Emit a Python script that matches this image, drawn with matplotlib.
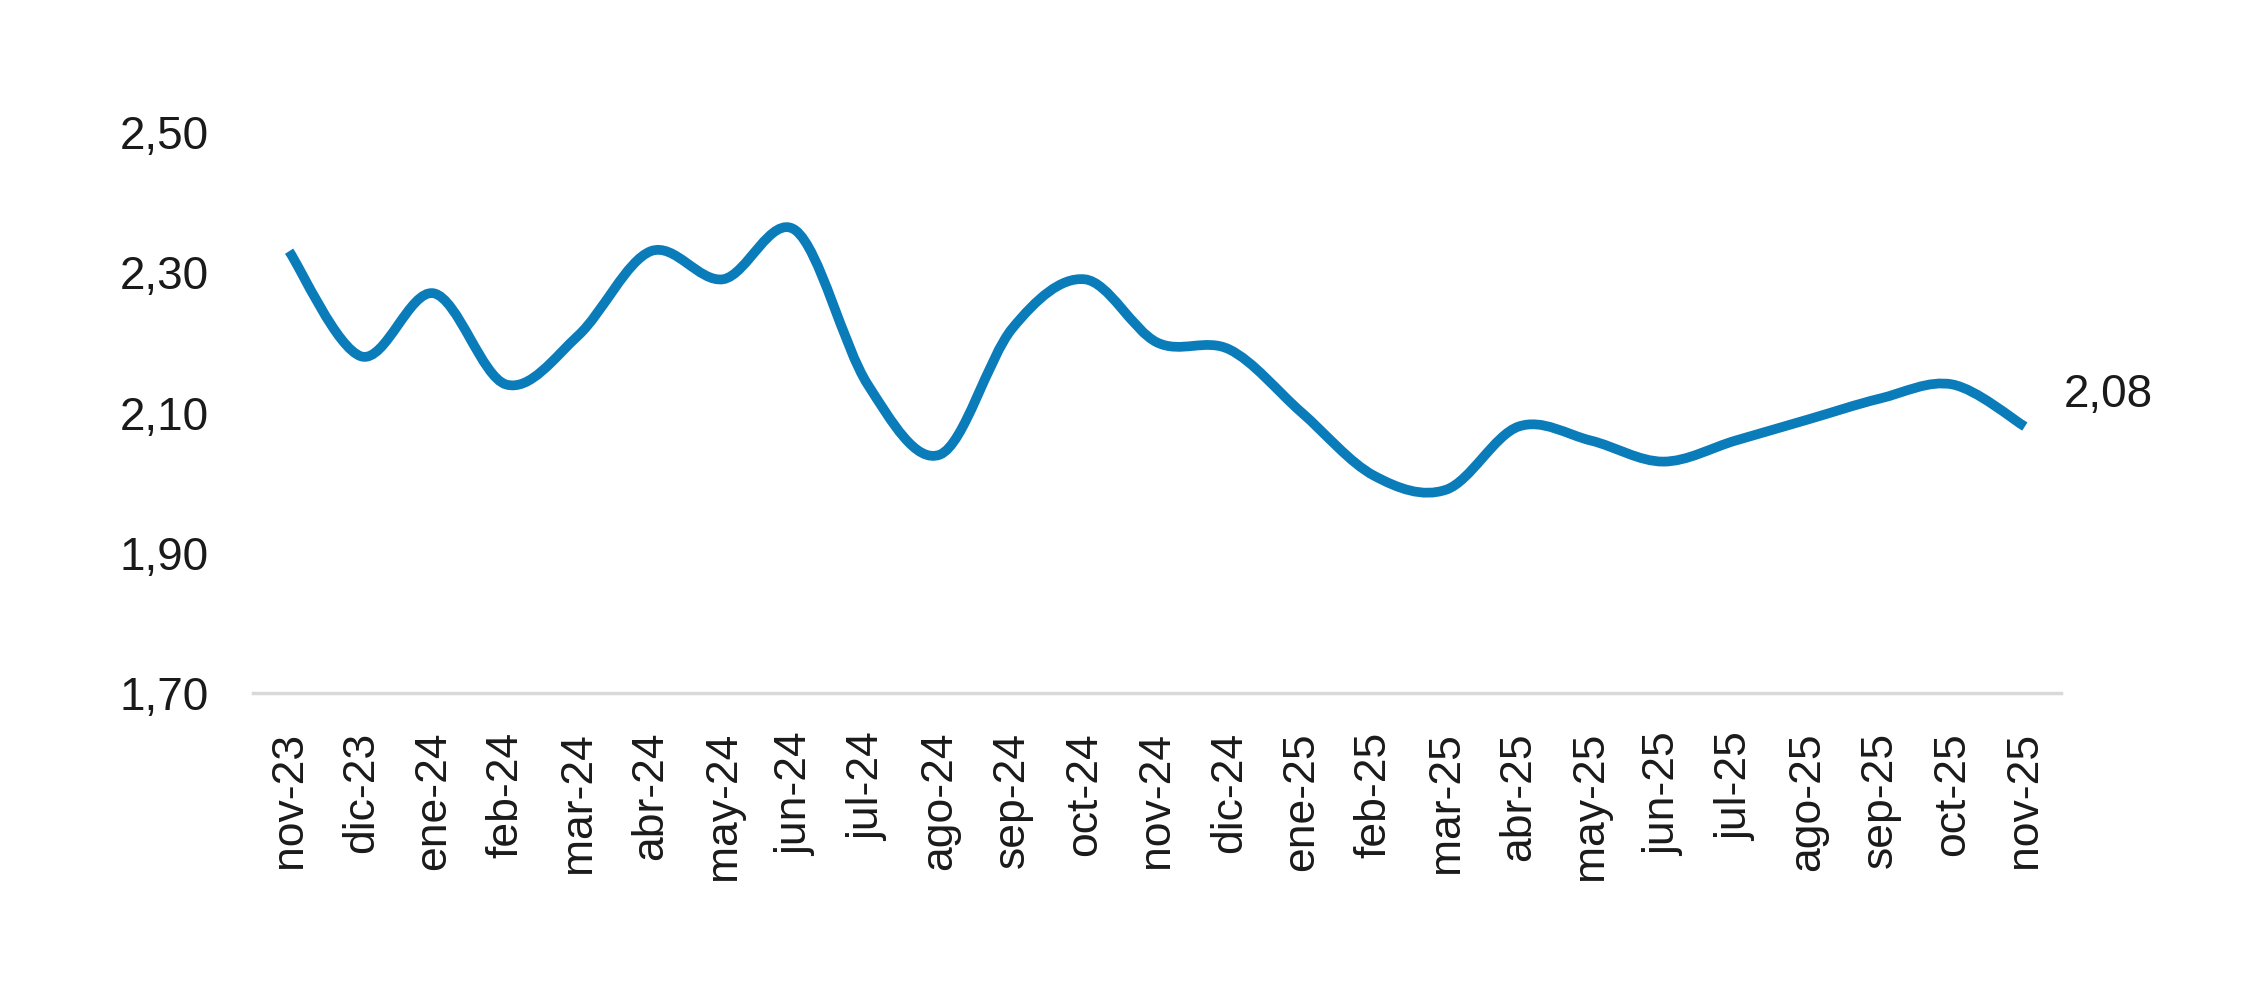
import numpy as np
import matplotlib.pyplot as plt
from matplotlib.path import Path
from matplotlib.patches import PathPatch

plt.rcParams['font.family'] = ['Liberation Sans', 'DejaVu Sans']

meses = ["nov-23", "dic-23", "ene-24", "feb-24", "mar-24", "abr-24", "may-24",
         "jun-24", "jul-24", "ago-24", "sep-24", "oct-24", "nov-24", "dic-24",
         "ene-25", "feb-25", "mar-25", "abr-25", "may-25", "jun-25", "jul-25",
         "ago-25", "sep-25", "oct-25", "nov-25"]
valores = [2.33, 2.18, 2.27, 2.14, 2.21, 2.33, 2.29, 2.36, 2.14, 2.04, 2.22,
           2.29, 2.20, 2.19, 2.10, 2.01, 1.99, 2.08, 2.06, 2.03, 2.06, 2.09,
           2.12, 2.14, 2.08]
yticks = [1.70, 1.90, 2.10, 2.30, 2.50]

LINE_COLOR = "#0a7cb9"
TEXT_COLOR = "#1a1a1a"


def fmt(v):
    return f"{v:.2f}".replace(".", ",")


def smooth_path(x, y):
    # smoothed line like the spreadsheet one: bezier segments through each point
    pts = np.column_stack([x, y])
    ext = np.vstack([pts[0], pts, pts[-1]])
    verts = [pts[0]]
    codes = [Path.MOVETO]
    for i in range(len(pts) - 1):
        p0, p1, p2, p3 = ext[i], ext[i + 1], ext[i + 2], ext[i + 3]
        verts += [p1 + (p2 - p0) / 6, p2 - (p3 - p1) / 6, p2]
        codes += [Path.CURVE4] * 3
    return Path(verts, codes)


def main():
    fig = plt.figure(figsize=(22.5, 10.07), dpi=100)
    ax = fig.add_axes([0.1124, 0.3118, 0.8036, 0.5571])

    x = np.arange(len(meses))
    patch = PathPatch(smooth_path(x, valores), facecolor="none",
                      edgecolor=LINE_COLOR, lw=7, capstyle="butt",
                      joinstyle="round", clip_on=False)
    ax.add_patch(patch)

    ax.annotate(fmt(valores[-1]), (x[-1], valores[-1]), xytext=(28, 23),
                textcoords="offset points", ha="left", va="center",
                fontsize=33, color=TEXT_COLOR)

    ax.set_xlim(-0.5, len(meses) - 0.5)
    ax.set_ylim(yticks[0], yticks[-1])
    ax.set_xticks(x)
    ax.set_xticklabels(meses, rotation=90, fontsize=32, color=TEXT_COLOR)
    ax.set_yticks(yticks)
    ax.set_yticklabels([fmt(v) for v in yticks], fontsize=33, color=TEXT_COLOR)
    ax.tick_params(axis="both", length=0)
    ax.tick_params(axis="y", pad=32)
    ax.tick_params(axis="x", pad=28)

    for s in ["top", "right", "left"]:
        ax.spines[s].set_visible(False)
    ax.spines["bottom"].set_color("#d9d9d9")
    ax.spines["bottom"].set_linewidth(2.5)

    fig.savefig("out.png", dpi=100, facecolor="white")


if __name__ == '__main__':
    main()
